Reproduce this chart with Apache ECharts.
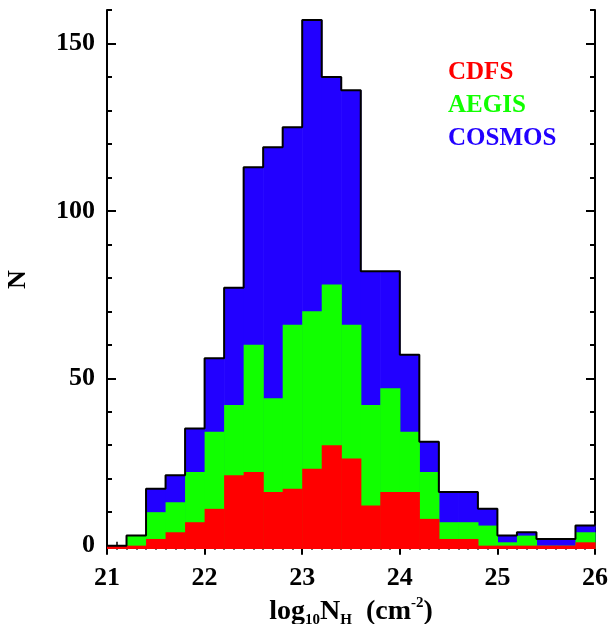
<!DOCTYPE html>
<html>
<head>
<meta charset="utf-8">
<script src="https://cdn.jsdelivr.net/npm/echarts@6/dist/echarts.min.js"></script>
<style>
  html, body { margin: 0; padding: 0; background: #fff; }
  #chart { width: 611px; height: 624px; }
</style>
</head>
<body>
<div id="chart"></div>
<script>
// histogram bins (left edges, width 0.2 dex)
var binStart = [21.0, 21.2, 21.4, 21.6, 21.8, 22.0, 22.2, 22.4, 22.6, 22.8, 23.0, 23.2, 23.4,
                23.6, 23.8, 24.0, 24.2, 24.4, 24.6, 24.8, 25.0, 25.2, 25.4, 25.6, 25.8];
var binWidth = 0.2;
// counts per field
var cdfs   = [0, 0, 2, 4, 7, 11, 21, 22, 16, 17, 23, 30, 26, 12, 16, 16, 8, 2, 2, 0, 0, 0, 0, 0, 1];
var aegis  = [0, 3, 8, 9, 15, 23, 21, 38, 28, 49, 47, 48, 40, 30, 31, 18, 14, 5, 5, 6, 1, 3, 0, 0, 3];
var cosmos = [0, 0, 7, 8, 13, 22, 35, 53, 75, 59, 87, 62, 70, 40, 35, 23, 9, 9, 9, 5, 2, 1, 2, 2, 2];
// axis ticks
var xTicks = [21, 22, 23, 24, 25, 26];
var yTicks = [0, 50, 100, 150];
var yMinorTicks = [10, 20, 30, 40, 60, 70, 80, 90, 110, 120, 130, 140, 160];
var yMin = -1, yMax = 160;

var names = ['CDFS', 'AEGIS', 'COSMOS'];
var colors = ['#ff0000', '#11ff00', '#2200ff'];
var font = 'Liberation Serif';

// cumulative heights
var cumRed = cdfs.slice();
var cumGreen = cdfs.map(function (v, i) { return v + aegis[i]; });
var total = cumGreen.map(function (v, i) { return v + cosmos[i]; });

function bars(top) {
  return binStart.map(function (x, i) { return [x, x + binWidth, yMin, top[i]]; });
}

function histItem(color) {
  return function (params, api) {
    var p0 = api.coord([api.value(0), api.value(2)]);
    var p1 = api.coord([api.value(1), api.value(3)]);
    return {
      type: 'rect',
      shape: { x: p0[0], y: p1[1], width: p1[0] - p0[0] + 0.6, height: p0[1] - p1[1] },
      style: { fill: color }
    };
  };
}

var outline = binStart.map(function (x, i) { return [x, total[i]]; });
outline.push([xTicks[xTicks.length - 1], total[total.length - 1]]);

var chart = echarts.init(document.getElementById('chart'));

var axisLine = { show: true, lineStyle: { color: '#000', width: 2 } };
var labelStyle = { color: '#000', fontFamily: font, fontWeight: 'bold', fontSize: 26 };

function xAxisCfg(pos, showLabel) {
  return {
    type: 'value', position: pos, min: 21, max: 26, interval: 1,
    axisLine: axisLine,
    axisTick: { inside: true, length: 9, lineStyle: { color: '#000', width: 2 } },
    minorTick: { show: true, splitNumber: 10, length: 4, lineStyle: { color: '#000', width: 1.5 } },
    axisLabel: Object.assign({ show: showLabel, margin: 16 }, labelStyle),
    splitLine: { show: false }
  };
}

function yAxisCfg(pos, ticks, len, showLabel, showLine) {
  return {
    type: 'value', position: pos, min: yMin, max: yMax,
    axisLine: showLine ? axisLine : { show: false },
    axisTick: { show: true, inside: true, length: len, customValues: ticks, lineStyle: { color: '#000', width: 2 } },
    axisLabel: Object.assign({ show: showLabel, margin: 12, customValues: ticks }, labelStyle),
    splitLine: { show: false }
  };
}

var xMain = xAxisCfg('bottom', true);
xMain.name = '{t|log}{s|10}{t|N}{s|H}{t|  (cm}{p|-2}{t|)}';
xMain.nameLocation = 'middle';
xMain.nameGap = 43;
xMain.nameTextStyle = {
  rich: {
    t: { fontFamily: font, fontWeight: 'bold', fontSize: 28, color: '#000', lineHeight: 32 },
    s: { fontFamily: font, fontWeight: 'bold', fontSize: 15, color: '#000', lineHeight: 14, verticalAlign: 'bottom' },
    p: { fontFamily: font, fontWeight: 'bold', fontSize: 15, color: '#000', lineHeight: 15, verticalAlign: 'top' }
  }
};

var yMainLeft = yAxisCfg('left', yTicks, 9, true, true);
yMainLeft.name = 'N';
yMainLeft.nameLocation = 'middle';
yMainLeft.nameGap = 76;
yMainLeft.nameTextStyle = labelStyle;

var option = {
  backgroundColor: '#fff',
  animation: false,
  grid: { left: 107, right: 16, top: 10, bottom: 75, containLabel: false, outerBoundsMode: 'none' },
  legend: {
    orient: 'vertical', left: 438, top: 55, icon: 'none',
    itemWidth: 0, itemHeight: 0, itemGap: 8,
    textStyle: { fontFamily: font, fontWeight: 'bold', fontSize: 25, lineHeight: 25 },
    data: names.map(function (n, i) { return { name: n, textStyle: { color: colors[i] } }; })
  },
  xAxis: [xMain, xAxisCfg('top', false)],
  yAxis: [
    yMainLeft,
    yAxisCfg('left', yMinorTicks, 5, false, false),
    yAxisCfg('right', yTicks, 9, false, true),
    yAxisCfg('right', yMinorTicks, 5, false, false)
  ],
  series: [
    { name: 'COSMOS', type: 'custom', renderItem: histItem(colors[2]), encode: { x: [0, 1], y: [2, 3] }, data: bars(total) },
    { name: 'AEGIS', type: 'custom', renderItem: histItem(colors[1]), encode: { x: [0, 1], y: [2, 3] }, data: bars(cumGreen) },
    { name: 'CDFS', type: 'custom', renderItem: histItem(colors[0]), encode: { x: [0, 1], y: [2, 3] }, data: bars(cumRed) },
    {
      name: 'total', type: 'line', step: 'end', data: outline, symbol: 'none', z: 5,
      lineStyle: { color: '#000', width: 2 }, silent: true
    }
  ]
};

chart.setOption(option);
</script>
</body>
</html>
